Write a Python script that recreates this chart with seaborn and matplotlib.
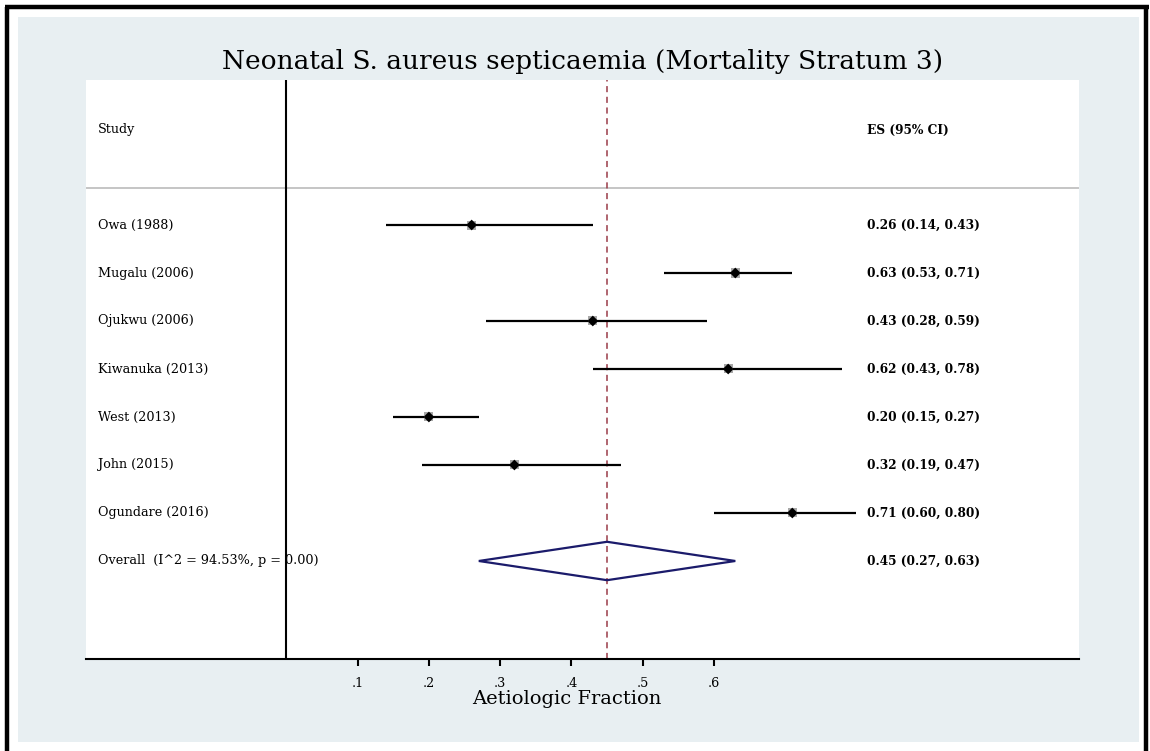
import matplotlib
matplotlib.use("Agg")
import matplotlib.pyplot as plt
import seaborn as sns
import pandas as pd
from matplotlib.patches import Rectangle, Polygon
from matplotlib.lines import Line2D

# ---- data ----
studies = ["Owa (1988)", "Mugalu (2006)", "Ojukwu (2006)", "Kiwanuka (2013)",
           "West (2013)", "John (2015)", "Ogundare (2016)"]
es = [0.26, 0.63, 0.43, 0.62, 0.20, 0.32, 0.71]
ci_low = [0.14, 0.53, 0.28, 0.43, 0.15, 0.19, 0.60]
ci_high = [0.43, 0.71, 0.59, 0.78, 0.27, 0.47, 0.80]
overall_label = "Overall  (I^2 = 94.53%, p = 0.00)"
overall_es = 0.45
overall_low = 0.27
overall_high = 0.63
xticks = [0.1, 0.2, 0.3, 0.4, 0.5, 0.6]
xtick_labels = [".1", ".2", ".3", ".4", ".5", ".6"]
title = "Neonatal S. aureus septicaemia (Mortality Stratum 3)"
xlabel = "Aetiologic Fraction"

sns.set_theme(style="white")
plt.rcParams["font.family"] = ["DejaVu Serif"]
plt.rcParams["text.color"] = "black"
plt.rcParams["axes.labelcolor"] = "black"
plt.rcParams["xtick.color"] = "black"

W, H = 1150, 751
fig = plt.figure(figsize=(W / 100, H / 100), dpi=100, facecolor="white")

BG = "#E8EFF2"
# graph region background
fig.patches.append(Rectangle((18 / W, 1 - 742 / H), (1139 - 18) / W, (742 - 17) / H,
                             transform=fig.transFigure, facecolor=BG, edgecolor="none", zorder=-5))
# outer black frame
for (x0, y0, x1, y1) in [(7, 7, 7, 760), (5, 7, 1149, 7), (1146, 7, 1146, 760)]:
    fig.add_artist(Line2D([x0 / W, x1 / W], [1 - y0 / H, 1 - y1 / H], transform=fig.transFigure,
                          color="black", lw=3.2, solid_capstyle="butt", zorder=-4))

ax = fig.add_axes([86 / W, 1 - 659 / H, (1079 - 86) / W, (659 - 80) / H])
ax.set_zorder(2)
ax.set_facecolor("white")

rows = list(range(1, len(studies) + 1))
overall_row = len(studies) + 1
df = pd.DataFrame({"study": studies, "es": es, "lo": ci_low, "hi": ci_high, "row": rows})

# confidence intervals
ax.hlines(df["row"], df["lo"], df["hi"], color="black", lw=1.6, zorder=3)
# weight boxes (grey) and point estimates (black diamonds)
sns.scatterplot(data=df, x="es", y="row", marker="s", s=42, color="#A8A8A8",
                edgecolor="none", ax=ax, zorder=4, legend=False)
sns.scatterplot(data=df, x="es", y="row", marker="D", s=30, color="black",
                edgecolor="none", ax=ax, zorder=5, legend=False)

# overall diamond
h = 0.4
diamond = Polygon([(overall_low, overall_row), (overall_es, overall_row - h),
                   (overall_high, overall_row), (overall_es, overall_row + h)],
                  closed=True, facecolor="none", edgecolor="#1B1B6B", lw=1.6, zorder=5)
ax.add_patch(diamond)

# overall effect line
ax.axvline(overall_es, color="#9A3A48", lw=1.1, ls=(0, (4, 3)), zorder=2)
# null line
ax.axvline(0, color="black", lw=1.5, zorder=6)
# header separator
ax.axhline(0.23, color="#BBBBBB", lw=1.2, zorder=1)

ax.set_xlim(-0.2812, 1.1123)
ax.set_ylim(10.042, -2.021)

# text columns
small = 9.2
bold = 8.7
tr = ax.get_yaxis_transform()
ax.text(0.012, -0.98, "Study", transform=tr, fontsize=small, va="center", ha="left")
ax.text(0.7865, -0.98, "ES (95% CI)", transform=tr, fontsize=bold,
        va="center", ha="left", fontweight="bold")
for r, s, e, l, u in zip(rows, studies, es, ci_low, ci_high):
    ax.text(0.012, r, s, transform=tr, fontsize=small, va="center", ha="left")
    ax.text(0.7865, r, f"{e:.2f} ({l:.2f}, {u:.2f})", transform=tr,
            fontsize=bold, va="center", ha="left", fontweight="bold")
ax.text(0.012, overall_row, overall_label, transform=tr, fontsize=small,
        va="center", ha="left")
ax.text(0.7865, overall_row, f"{overall_es:.2f} ({overall_low:.2f}, {overall_high:.2f})",
        transform=tr, fontsize=bold, va="center", ha="left", fontweight="bold")

# axes styling
for side in ["top", "left", "right"]:
    ax.spines[side].set_visible(False)
ax.spines["bottom"].set_color("black")
ax.spines["bottom"].set_linewidth(1.5)
ax.set_yticks([])
ax.set_xticks(xticks)
ax.set_xticklabels(xtick_labels, fontsize=small)
ax.tick_params(axis="x", direction="out", length=5, width=1.5, color="black", pad=8,
               bottom=True, labelcolor="black")
ax.set_xlabel(xlabel, fontsize=14)
ax.xaxis.set_label_coords(0.4844, -0.053)
ax.set_ylabel("")

fig.text(583 / W, 1 - 62 / H, title, fontsize=19, ha="center", va="center")

fig.savefig("out.png", dpi=100, facecolor="white")
